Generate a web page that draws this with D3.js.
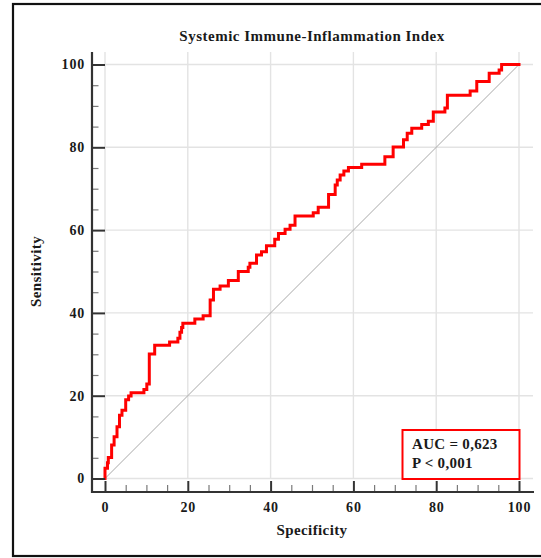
<!DOCTYPE html>
<html>
<head>
<meta charset="utf-8">
<script src="https://cdn.jsdelivr.net/npm/d3@7"></script>
<style>
  html, body { margin: 0; padding: 0; background: #fff; }
  svg { display: block; }
  text { font-family: "Liberation Serif", "Times New Roman", serif; font-weight: bold; fill: #1a1a1a; }
</style>
</head>
<body>
<svg id="chart" width="541" height="558"></svg>
<script>
// ROC curve vertices: each point starts a horizontal run at its sensitivity level
const rocSpecificity = [0,0,0.6,0.8,1.6,2.2,2.9,3.5,4.1,5.0,5.7,6.3,9.4,10.1,10.7,12.0,15.6,17.6,18.1,18.5,
  18.8,21.7,23.7,25.4,26.2,27.8,29.8,32.2,34.6,35.0,36.6,37.8,39.0,41.0,41.9,43.5,44.7,45.9,50.3,51.5,
  54.0,55.6,56.1,56.8,57.7,58.8,62.0,67.6,69.6,72.1,73.0,74.1,76.5,78.1,79.3,82.1,82.7,88.2,89.8,92.8,
  95.2,95.8,100];
const rocSensitivity = [0,2.5,3.8,5.1,8.1,10.1,12.5,15.3,16.5,19.0,19.9,20.7,21.5,22.8,30.1,32.2,33.0,33.9,35.3,36.5,
  37.5,38.5,39.3,43.1,45.7,46.5,47.8,50.0,51.0,52.0,54.0,54.8,56.2,57.8,59.2,60.2,61.2,63.4,64.2,65.5,
  68.6,70.9,72.1,73.3,74.3,75.1,75.9,77.7,80.1,81.8,83.4,84.6,85.5,86.3,88.5,89.5,92.6,93.6,95.9,97.9,
  98.7,100,100];
const majorTicks = [0, 20, 40, 60, 80, 100];
const minorTicks = [5,10,15,25,30,35,45,50,55,65,70,75,85,90,95];
const titleText = "Systemic Immune-Inflammation Index";
const xTitle = "Specificity";
const yTitle = "Sensitivity";
const statLines = ["AUC = 0,623", "P < 0,001"];

const svg = d3.select("#chart");
const x = d3.scaleLinear().domain([0, 100]).range([105, 519]);
const y = d3.scaleLinear().domain([0, 100]).range([478.5, 64.5]);
const axisX = 92, axisY = 492;

// outer frame
svg.append("rect").attr("x", 13).attr("y", 4).attr("width", 540).attr("height", 552)
  .attr("fill", "none").attr("stroke", "#111").attr("stroke-width", 2.2);

// grid
const grid = svg.append("g").attr("stroke", "#e3e3e3").attr("stroke-width", 1.4);
grid.selectAll(".gx").data(majorTicks).join("line")
  .attr("x1", d => x(d)).attr("x2", d => x(d)).attr("y1", 52).attr("y2", y(0));
grid.selectAll(".gy").data(majorTicks).join("line")
  .attr("x1", x(0)).attr("x2", 533).attr("y1", d => y(d)).attr("y2", d => y(d));

// reference diagonal
svg.append("line")
  .attr("x1", x(0)).attr("y1", y(0)).attr("x2", x(100)).attr("y2", y(100))
  .attr("stroke", "#a8a8a8").attr("stroke-width", 1);

// ROC step curve
const pts = rocSpecificity.map((s, i) => [s, rocSensitivity[i]]);
svg.append("path").datum(pts)
  .attr("d", d3.line().x(d => x(d[0])).y(d => y(d[1])).curve(d3.curveStepAfter))
  .attr("fill", "none").attr("stroke", "#ff0000").attr("stroke-width", 3)
  .attr("stroke-linejoin", "miter").attr("stroke-linecap", "square");

// axes
const yMinor = svg.append("g").attr("transform", `translate(${axisX},0)`)
  .call(d3.axisLeft(y).tickValues(minorTicks).tickSizeInner(-6.5).tickSizeOuter(0).tickFormat(""));
const yMajor = svg.append("g").attr("transform", `translate(${axisX},0)`)
  .call(d3.axisLeft(y).tickValues(majorTicks).tickSizeInner(-13).tickSizeOuter(0).tickPadding(7));
const xMinor = svg.append("g").attr("transform", `translate(0,${axisY})`)
  .call(d3.axisBottom(x).tickValues(minorTicks).tickSizeInner(-7).tickSizeOuter(0).tickFormat(""));
const xMajor = svg.append("g").attr("transform", `translate(0,${axisY})`)
  .call(d3.axisBottom(x).tickValues(majorTicks).tickSizeInner(-11).tickSizeOuter(0).tickPadding(10));

[yMinor, yMajor, xMinor, xMajor].forEach(g => g.select(".domain").remove());
[yMinor, xMinor].forEach(g => g.selectAll(".tick line").attr("stroke", "#7a7a7a").attr("stroke-width", 1.2));
[yMajor, xMajor].forEach(g => {
  g.selectAll(".tick line").attr("stroke", "#333").attr("stroke-width", 2);
  g.selectAll(".tick text").attr("font-family", null).attr("font-size", 14)
    .style("letter-spacing", "0.8px").attr("fill", "#1a1a1a");
});

// axis lines
svg.append("line").attr("x1", axisX).attr("x2", axisX).attr("y1", 52).attr("y2", axisY + 1)
  .attr("stroke", "#333").attr("stroke-width", 2.2);
svg.append("line").attr("x1", axisX - 1).attr("x2", 534).attr("y1", axisY).attr("y2", axisY)
  .attr("stroke", "#333").attr("stroke-width", 2.2);

// titles
svg.append("text").attr("x", (x(0) + x(100)) / 2).attr("y", 41).attr("text-anchor", "middle")
  .attr("font-size", 15).style("letter-spacing", "0.5px").text(titleText);
svg.append("text").attr("x", (x(0) + x(100)) / 2).attr("y", 535).attr("text-anchor", "middle")
  .attr("font-size", 15).style("letter-spacing", "0.4px").text(xTitle);
svg.append("text").attr("transform", `translate(41,${(y(0) + y(100)) / 2}) rotate(-90)`)
  .attr("text-anchor", "middle").attr("font-size", 15).style("letter-spacing", "0.4px").text(yTitle);

// statistics box
const box = svg.append("g");
box.append("rect").attr("x", 402.5).attr("y", 430).attr("width", 117).attr("height", 49)
  .attr("fill", "#fff").attr("stroke", "#ff0000").attr("stroke-width", 2);
box.selectAll("text").data(statLines).join("text")
  .attr("x", 412).attr("y", (d, i) => 449 + i * 19)
  .attr("font-size", 15).style("letter-spacing", "0.3px").text(d => d);
</script>
</body>
</html>
